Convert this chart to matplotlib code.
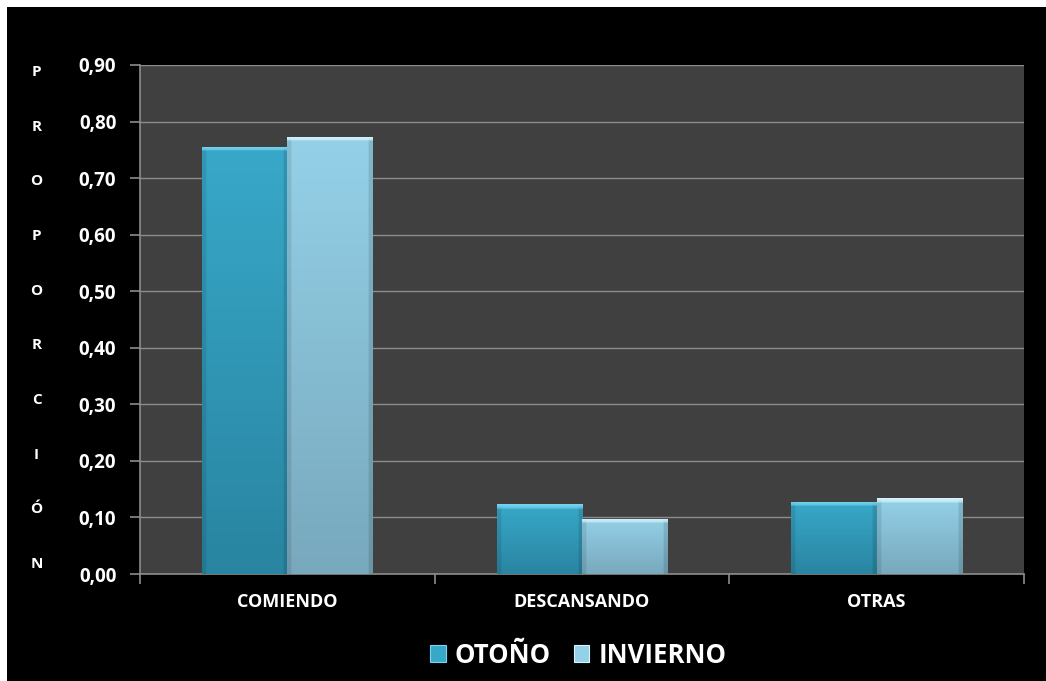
import numpy as np
import matplotlib
matplotlib.use("Agg")
import matplotlib.pyplot as plt
from matplotlib.patches import Rectangle, Patch

plt.rcParams['font.family'] = ['Open Sans', 'DejaVu Sans']

categories = ["COMIENDO", "DESCANSANDO", "OTRAS"]
otono = [0.755, 0.123, 0.128]
invierno = [0.773, 0.098, 0.134]
series_names = ["OTOÑO", "INVIERNO"]
yticks = [0.0, 0.1, 0.2, 0.3, 0.4, 0.5, 0.6, 0.7, 0.8, 0.9]
ytick_labels = ["0,00", "0,10", "0,20", "0,30", "0,40", "0,50", "0,60", "0,70", "0,80", "0,90"]
ylabel_letters = list("PROPORCIÓN")

# (top colour, bottom colour, bevel highlight)
palettes = [
    ((0.22, 0.66, 0.79), (0.16, 0.52, 0.63), (0.47, 0.84, 0.95)),
    ((0.58, 0.82, 0.91), (0.47, 0.66, 0.74), (0.85, 0.96, 0.99)),
]

fig = plt.figure(figsize=(10.46, 6.81), dpi=100, facecolor="white")
fig.add_artist(Rectangle((7 / 1046, 0), 1, 1 - 7 / 681, transform=fig.transFigure,
                         facecolor="black", edgecolor="none", zorder=-10))

ax = fig.add_axes([0.1338, 0.1571, 0.9790 - 0.1338, 0.9046 - 0.1571])
ax.set_facecolor("#404040")

x = np.arange(len(categories))
width = 0.29
bar_sets = [
    ax.bar(x - width / 2, otono, width, color=palettes[0][0], zorder=2, linewidth=0),
    ax.bar(x + width / 2, invierno, width, color=palettes[1][0], zorder=2, linewidth=0),
]


def shade_bar(patch, top, bottom, hi):
    bx, bw, bh = patch.get_x(), patch.get_width(), patch.get_height()
    rows, cols = 300, 60
    t = np.linspace(0, 1, rows)[:, None, None]  # 0 at top, 1 at bottom
    col = np.array(top)[None, None, :] * (1 - t) + np.array(bottom)[None, None, :] * t
    img = np.repeat(col, cols, axis=1)
    u = np.linspace(0, 1, cols)
    side = np.ones(cols)
    side[u < 0.04] = 0.9
    side[u > 0.96] = 0.88
    img = img * side[None, :, None]
    bevel = 0.008 / bh
    nb = max(1, int(round(bevel * rows)))
    for i in range(nb):
        f = 1 - i / nb * 0.5
        img[i] = np.array(hi) * f + img[i] * (1 - f)
    img = np.clip(img, 0, 1)
    im = ax.imshow(img, extent=(bx, bx + bw, 0, bh), aspect="auto", zorder=3,
                   interpolation="bilinear")
    im.set_clip_path(patch)


for bars, pal in zip(bar_sets, palettes):
    for p in bars:
        shade_bar(p, *pal)

ax.set_xlim(-0.5, len(categories) - 0.5)
ax.set_ylim(0, 0.9)
ax.set_yticks(yticks)
ax.set_yticklabels(ytick_labels)
ax.set_xticks(x)
ax.set_xticklabels(categories)
ax.set_xticks(np.arange(-0.5, len(categories), 1.0), minor=True)

ax.grid(axis="y", color="#8c8c8c", linewidth=1.0, zorder=1)
ax.set_axisbelow(True)
for s in ["top", "right"]:
    ax.spines[s].set_visible(False)
for s in ["left", "bottom"]:
    ax.spines[s].set_color("#8c8c8c")
    ax.spines[s].set_linewidth(1.2)

ax.tick_params(axis="y", colors="#8c8c8c", length=7, width=1.2, labelcolor="white",
               labelsize=13.5, pad=10)
ax.tick_params(axis="x", which="major", length=0, labelcolor="white", labelsize=13, pad=14)
ax.tick_params(axis="x", which="minor", colors="#8c8c8c", length=7, width=1.2)
for lab in ax.get_yticklabels() + ax.get_xticklabels():
    lab.set_fontweight("bold")

# vertical stacked axis title
ys = np.linspace(0.986, 0.02, len(ylabel_letters))
for ch, yy in zip(ylabel_letters, ys):
    ax.text(-0.117, yy, ch, transform=ax.transAxes, color="white", fontsize=11,
            fontweight="bold", ha="center", va="center")

handles = [Patch(facecolor=pal[0], edgecolor=pal[2], linewidth=0.8) for pal in palettes]
leg = fig.legend(handles, series_names, loc="center", bbox_to_anchor=(0.553, 0.038),
                 ncol=2, frameon=False, handlelength=0.6, handleheight=0.6,
                 columnspacing=0.9, handletextpad=0.35,
                 prop={"size": 18.5, "weight": "bold"})
for t in leg.get_texts():
    t.set_color("white")

fig.savefig("out.png", dpi=100, facecolor=fig.get_facecolor())
